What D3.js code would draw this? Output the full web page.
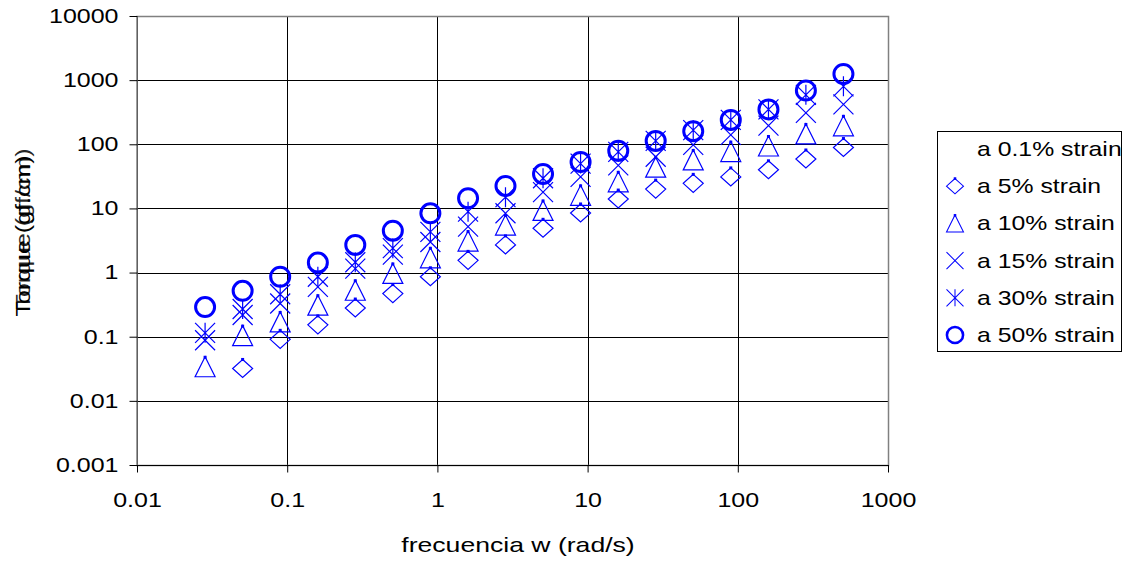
<!DOCTYPE html>
<html>
<head>
<meta charset="utf-8">
<script src="https://cdn.jsdelivr.net/npm/d3@7"></script>
<style>
  html, body { margin: 0; padding: 0; background: #fff; }
  svg { display: block; }
  text { font-family: "Liberation Sans", Arial, sans-serif; fill: #000; }
</style>
</head>
<body>
<svg id="chart" width="1122" height="561"></svg>
<script>
// Frequency sweep (rad/s)
const frequencies = [0.0284, 0.0505, 0.0898, 0.16, 0.284, 0.505, 0.898, 1.6, 2.84, 5.05, 8.98, 16, 28.4, 50.5, 89.8, 160, 284, 505];

// Torque readings at each strain amplitude (null = not measured)
const strain01 = [];
const strain5  = [null, 0.032, 0.091, 0.153, 0.28, 0.47, 0.86, 1.55, 2.7, 4.9, 8.5, 14, 20, 24.6, 31, 40, 59, 89];
const strain10 = [0.034, 0.104, 0.17, 0.31, 0.53, 0.97, 1.7, 3.1, 5.5, 9.3, 16, 26, 44, 57, 77, 94, 145, 194];
const strain15 = [0.088, 0.218, 0.33, 0.6, 1.15, 1.9, 3.0, 5.2, 8.4, 18, 31, 47, 64, 98, 140, 195, 308, 420];
const strain30 = [0.115, 0.27, 0.46, 0.86, 1.45, 2.4, 4.3, 8.9, 15, 29.5, 50, 76, 113, 166, 240, 350, 590, 800];
const strain50 = [0.29, 0.52, 0.86, 1.43, 2.7, 4.5, 8.4, 14.4, 22.4, 34.5, 53, 79, 113, 160, 240, 350, 690, 1250];

const seriesNames = ["a 0.1% strain", "a 5% strain", "a 10% strain", "a 15% strain", "a 30% strain", "a 50% strain"];
const seriesMarkers = ["none", "diamond", "triangle", "x", "asterisk", "circle"];

const xTickValues = [0.01, 0.1, 1, 10, 100, 1000];
const xTickLabels = ["0.01", "0.1", "1", "10", "100", "1000"];
const yTickValues = [0.001, 0.01, 0.1, 1, 10, 100, 1000, 10000];
const yTickLabels = ["0.001", "0.01", "0.1", "1", "10", "100", "1000", "10000"];

const xTitle = "frecuencia w (rad/s)";
const yTitle = "Torque (gf.cm)";
const yTitleAlt = "Torque (gf/cm)";

// ---------------------------------------------------------------
const BLUE = "#0000ff";
const FONT = 20;
const STRETCH = 1.25;

const svg = d3.select("#chart");
const plotL = 137, plotR = 888, plotT = 16, plotB = 465;

const x = d3.scaleLog().domain([0.01, 1000]).range([plotL, plotR]);
const y = d3.scaleLog().domain([0.001, 10000]).range([plotB, plotT]);

// grid
const grid = svg.append("g");
grid.selectAll("line.h").data(yTickValues).join("line")
  .attr("x1", plotL).attr("x2", plotR)
  .attr("y1", d => Math.round(y(d)) + 0.5).attr("y2", d => Math.round(y(d)) + 0.5)
  .attr("stroke", "#000").attr("stroke-width", 1);
grid.selectAll("line.v").data(xTickValues).join("line")
  .attr("y1", plotT).attr("y2", plotB)
  .attr("x1", d => Math.round(x(d)) + 0.5).attr("x2", d => Math.round(x(d)) + 0.5)
  .attr("stroke", "#000").attr("stroke-width", 1);

// plot frame
svg.append("rect").attr("x", plotL).attr("y", plotT + 0.5)
  .attr("width", plotR - plotL + 0.5).attr("height", plotB - plotT)
  .attr("fill", "none").attr("stroke", "#808080").attr("stroke-width", 1.5);
svg.append("line").attr("x1", plotL).attr("x2", plotR + 1)
  .attr("y1", plotB + 0.5).attr("y2", plotB + 0.5).attr("stroke", "#000");

// axes
const yAxis = d3.axisLeft(y).tickValues(yTickValues)
  .tickFormat((d, i) => yTickLabels[i]).tickSizeInner(8).tickSizeOuter(0).tickPadding(11);
const gy = svg.append("g").attr("transform", `translate(${plotL + 0.5},0)`).call(yAxis);
gy.select(".domain").remove();
gy.selectAll(".tick line").attr("stroke", "#000");
gy.selectAll(".tick text")
  .attr("font-size", FONT)
  .attr("x", -19 / STRETCH)
  .attr("transform", `scale(${STRETCH},1)`)
  .style("font-family", '"Liberation Sans", Arial, sans-serif');

const xAxis = d3.axisBottom(x).tickValues(xTickValues)
  .tickFormat((d, i) => xTickLabels[i]).tickSizeInner(7).tickSizeOuter(0).tickPadding(20);
const gx = svg.append("g").attr("transform", `translate(0,${plotB + 0.5})`).call(xAxis);
gx.select(".domain").remove();
gx.selectAll(".tick line").attr("stroke", "#000");
gx.selectAll(".tick text")
  .attr("font-size", FONT)
  .attr("transform", `scale(${STRETCH},1)`)
  .style("font-family", '"Liberation Sans", Arial, sans-serif');

// stretched text helper
function label(g, txt, px, py, anchor, rot, stretch) {
  return g.append("text")
    .attr("transform", `translate(${px},${py}) rotate(${rot || 0}) scale(${stretch || STRETCH},1)`)
    .attr("text-anchor", anchor)
    .attr("font-size", FONT)
    .text(txt);
}

label(svg, xTitle, 518, 552, "middle", 0, 1.33);
label(svg, yTitle, 30, 236, "middle", -90);
label(svg, yTitleAlt, 30, 229, "middle", -90).attr("opacity", 0.85);

// marker drawing
function drawMarker(g, type) {
  const s = 10;
  if (type === "diamond") {
    g.append("path").attr("d", `M0,${-s + 1}L${s},0L0,${s - 1}L${-s},0Z`)
      .attr("fill", "none").attr("stroke", BLUE).attr("stroke-width", 1.2);
    g.append("rect").attr("x", -1.5).attr("y", -s - 0.5).attr("width", 3).attr("height", 3).attr("fill", BLUE);
  } else if (type === "triangle") {
    g.append("path").attr("d", `M0,${-s}L${s},${s}L${-s},${s}Z`)
      .attr("fill", "none").attr("stroke", BLUE).attr("stroke-width", 1.2);
    g.append("rect").attr("x", -1.5).attr("y", -s - 1).attr("width", 3).attr("height", 3).attr("fill", BLUE);
  } else if (type === "x") {
    g.append("path").attr("d", `M${-s},${-s}L${s},${s}M${s},${-s}L${-s},${s}`)
      .attr("fill", "none").attr("stroke", BLUE).attr("stroke-width", 1.2);
  } else if (type === "asterisk") {
    g.append("path").attr("d", `M${-s},${-s}L${s},${s}M${s},${-s}L${-s},${s}M0,${-s}L0,${s}`)
      .attr("fill", "none").attr("stroke", BLUE).attr("stroke-width", 1.2);
  } else if (type === "circle") {
    g.append("circle").attr("r", 9.5)
      .attr("fill", "none").attr("stroke", BLUE).attr("stroke-width", 3);
  }
}

const seriesValues = [strain01, strain5, strain10, strain15, strain30, strain50];

const plot = svg.append("g");
seriesValues.forEach((vals, si) => {
  const pts = frequencies.map((f, i) => ({ f, v: vals[i] }))
    .filter(d => d.v != null);
  plot.append("g").selectAll("g").data(pts).join("g")
    .attr("transform", d => `translate(${x(d.f)},${y(d.v)})`)
    .each(function () { drawMarker(d3.select(this), seriesMarkers[si]); });
});

// legend
const legend = svg.append("g");
legend.append("rect").attr("x", 937.5).attr("y", 131.5).attr("width", 184).attr("height", 220)
  .attr("fill", "#fff").attr("stroke", "#000").attr("stroke-width", 1);
seriesNames.forEach((name, i) => {
  const cy = 149 + i * 37.2;
  const m = legend.append("g").attr("transform", `translate(955,${cy}) scale(0.85)`);
  drawMarker(m, seriesMarkers[i]);
  label(legend, name, 977, cy + 7, "start", 0, 1.24);
});
</script>
</body>
</html>
